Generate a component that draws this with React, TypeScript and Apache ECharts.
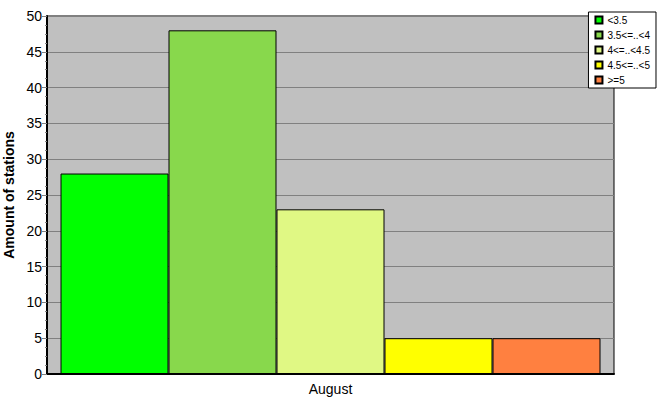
import React, { useEffect, useRef } from "react";
import * as echarts from "echarts";

const categories = ["August"];
const seriesNames = ["<3.5", "3.5<=..<4", "4<=..<4.5", "4.5<=..<5", ">=5"];
const seriesValues = [28, 48, 23, 5, 5];
const seriesColors = ["#00ff00", "#88d84c", "#e0f884", "#ffff00", "#ff8040"];

export default function App() {
  const ref = useRef<HTMLDivElement>(null);
  useEffect(() => {
    document.body.style.margin = "0";
    const chart = echarts.init(ref.current!, undefined, { renderer: "svg" });
    chart.setOption({
      animation: false,
      backgroundColor: "#ffffff",
      textStyle: { fontFamily: "Liberation Sans" },
      grid: {
        left: 47, right: 53, top: 16, bottom: 41,
        containLabel: false, outerBoundsMode: "none",
        show: true, backgroundColor: "#c0c0c0", borderColor: "#000", borderWidth: 1,
      },
      legend: {
        orient: "vertical",
        right: 11,
        top: 12,
        backgroundColor: "#ffffff",
        borderColor: "#000",
        borderWidth: 1,
        borderRadius: 0,
        padding: [3, 6, 3, 6],
        itemWidth: 7,
        itemHeight: 7,
        itemGap: 5,
        icon: "rect",
        textStyle: { fontFamily: "Liberation Sans", fontSize: 10, color: "#000" },
        data: seriesNames,
      },
      xAxis: {
        type: "category",
        data: categories,
        axisLine: { lineStyle: { color: "#000", width: 2 } },
        axisTick: { alignWithLabel: true, length: 5, lineStyle: { color: "#808080" } },
        axisLabel: { color: "#000", fontSize: 14, margin: 8 },
      },
      yAxis: {
        type: "value",
        min: 0,
        max: 50,
        interval: 5,
        name: "Amount of stations",
        nameLocation: "middle",
        nameGap: 28,
        nameTextStyle: { fontWeight: "bold", fontSize: 14, color: "#000" },
        axisLine: { show: true, lineStyle: { color: "#000", width: 2 } },
        axisTick: { show: true, length: 5, lineStyle: { color: "#808080" } },
        minorTick: { show: true, splitNumber: 4, length: 2, lineStyle: { color: "#808080" } },
        splitLine: { lineStyle: { color: "#808080", width: 1 } },
        axisLabel: { color: "#000", fontSize: 14, margin: 5 },
      },
      series: seriesNames.map((name, i) => ({
        name,
        type: "bar",
        data: [seriesValues[i]],
        barGap: "0%",
        barWidth: 108,
        itemStyle: { color: seriesColors[i], borderColor: "#000", borderWidth: 1 },
      })),
    });
    return () => chart.dispose();
  }, []);
  return <div ref={ref} style={{ position: "absolute", left: 0, top: 0, width: 667, height: 415 }} />;
}
